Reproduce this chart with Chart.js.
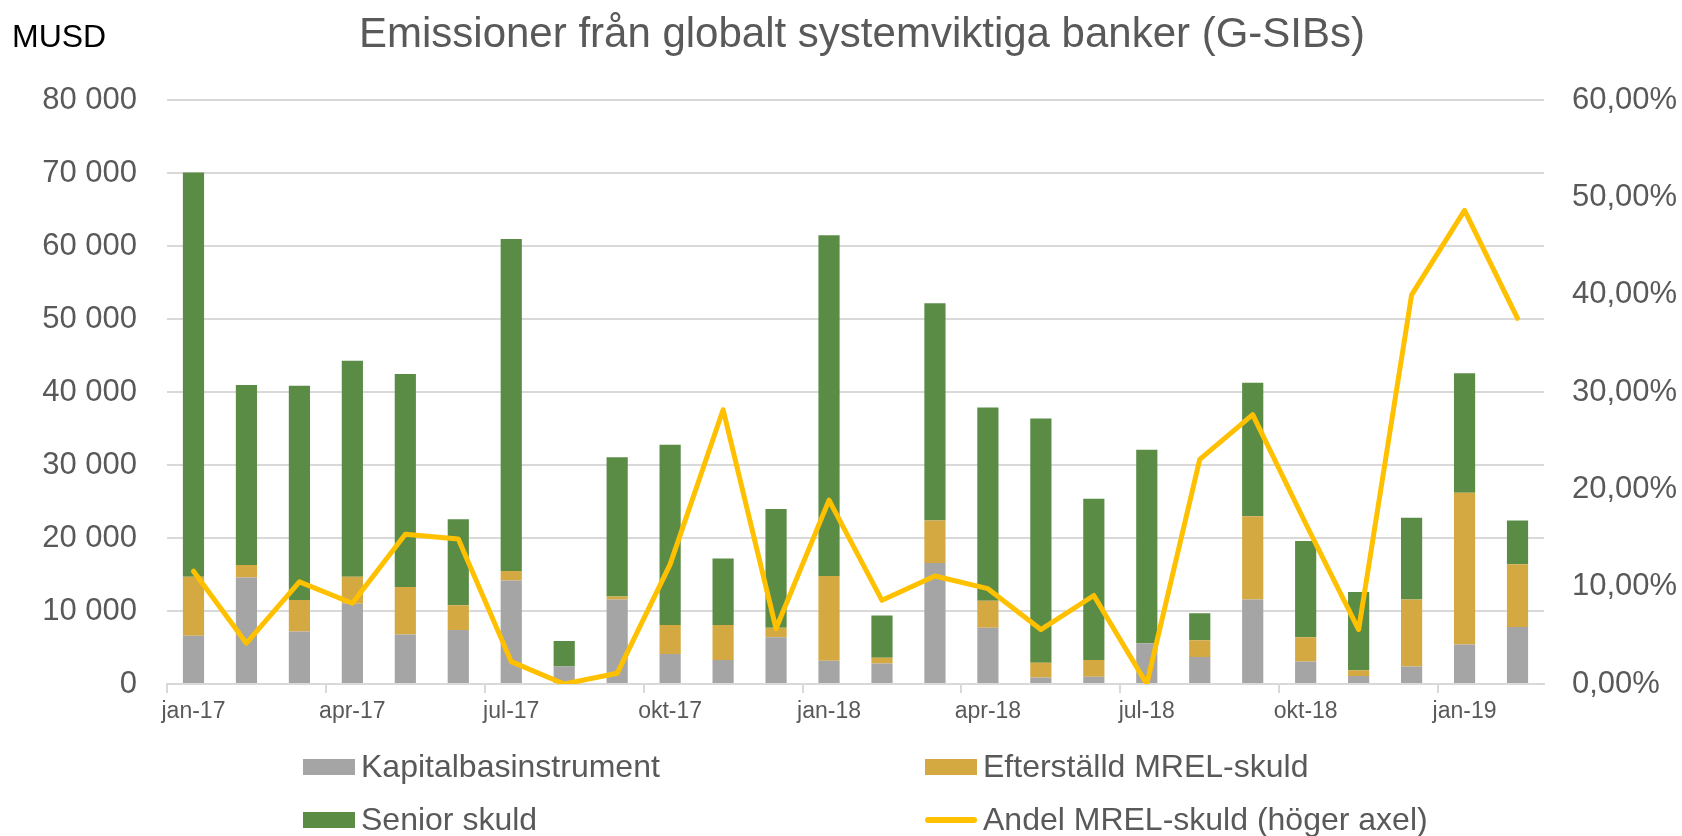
<!DOCTYPE html>
<html lang="sv">
<head>
<meta charset="utf-8">
<style>
  body { margin: 0; background: #fff; }
  #wrap { position: relative; width: 1682px; height: 836px; }
  #unit { position: absolute; left: 12px; top: 20px; font: 32px 'Liberation Sans', Arial, sans-serif; line-height: 32px; color: #000; }
  #legend { position: absolute; left: 303px; top: 740px; display: grid; grid-template-columns: 622px auto; grid-auto-rows: 53px;
            font: 32px 'Liberation Sans', Arial, sans-serif; color: #595959; }
  .item { display: flex; align-items: center; }
  .sw { width: 52px; height: 16px; margin-right: 6px; }
  .sw.line { height: 6px; border-radius: 3px; }
</style>
</head>
<body>
<div id="wrap">
  <canvas id="chart" width="1682" height="836"></canvas>
  <div id="unit">MUSD</div>
  <div id="legend"></div>
</div>
<script src="https://cdn.jsdelivr.net/npm/chart.js"></script>
<script>
  const months = ['jan-17','feb-17','mar-17','apr-17','maj-17','jun-17','jul-17','aug-17','sep-17','okt-17','nov-17','dec-17',
                  'jan-18','feb-18','mar-18','apr-18','maj-18','jun-18','jul-18','aug-18','sep-18','okt-18','nov-18','dec-18',
                  'jan-19','feb-19'];
  // MUSD
  const kapitalbas = [6600,14600,7200,11000,6800,7400,14200,2400,11600,4100,3300,6400,
                      3200,2800,16600,7700,900,1000,5600,3700,11600,3100,1100,2400,5400,7800];
  const efterstalld = [8100,1700,4300,3700,6500,3400,1300,0,400,4000,4800,1300,
                       11600,800,5800,3700,2000,2300,0,2300,11400,3300,800,9200,20800,8600];
  const senior = [55400,24700,29400,29600,29200,11800,45500,3500,19100,24700,9100,16300,
                  46700,5800,29800,26500,33500,22100,26500,3700,18300,13200,10700,11200,16400,6000];
  // procent, höger axel
  const andelMrel = [11.6,4.2,10.5,8.3,15.4,14.9,2.3,0.0,1.1,12.3,28.2,5.7,
                     18.9,8.6,11.1,9.8,5.6,9.1,0.0,23.1,27.7,16.5,5.6,40.0,48.7,37.6];

  const font = "'Liberation Sans', Arial, sans-serif";
  const textColor = '#595959';
  const gridColor = '#d9d9d9';

  function spaced(v) {
    return String(v).replace(/\B(?=(\d{3})+(?!\d))/g, ' ');
  }

  const chart = new Chart(document.getElementById('chart'), {
    type: 'bar',
    data: {
      labels: months,
      datasets: [
        { label: 'Kapitalbasinstrument', data: kapitalbas, backgroundColor: '#a5a5a5', order: 1 },
        { label: 'Efterställd MREL-skuld', data: efterstalld, backgroundColor: '#d5a942', order: 1 },
        { label: 'Senior skuld', data: senior, backgroundColor: '#5b8c46', order: 1 },
        { label: 'Andel MREL-skuld (höger axel)', type: 'line', data: andelMrel, yAxisID: 'y1',
          borderColor: '#ffc000', backgroundColor: '#ffc000', borderWidth: 5, pointRadius: 0,
          tension: 0, borderJoinStyle: 'round', borderCapStyle: 'round', order: 0 }
      ]
    },
    options: {
      responsive: false,
      animation: false,
      datasets: { bar: { barPercentage: 0.4, categoryPercentage: 1 } },
      layout: { padding: { left: 42, right: 0, top: 0, bottom: 110 } },
      plugins: {
        legend: { display: false },
        tooltip: { enabled: false },
        title: {
          display: true,
          text: 'Emissioner från globalt systemviktiga banker (G-SIBs)',
          color: textColor,
          font: { family: font, size: 42, weight: 'normal' },
          padding: { top: 10, bottom: 40 }
        }
      },
      scales: {
        x: {
          stacked: true,
          grid: {
            offset: true, drawOnChartArea: false, tickLength: 9, lineWidth: 2,
            color: c => c.index % 3 === 0 ? gridColor : 'rgba(0,0,0,0)'
          },
          border: { color: gridColor, width: 2 },
          ticks: {
            autoSkip: false, maxRotation: 0, padding: 5, color: textColor,
            font: { family: font, size: 23 },
            callback: (v, i) => i % 3 === 0 ? months[i] : ''
          },
          afterFit: s => { s.height = 42; }
        },
        y: {
          stacked: true, min: 0, max: 80000,
          grid: { drawTicks: false, color: gridColor, lineWidth: 2 },
          border: { display: false },
          ticks: { stepSize: 10000, padding: 30, color: textColor, font: { family: font, size: 31 },
                   callback: v => spaced(v) },
          afterFit: s => { s.width = 125; }
        },
        y1: {
          position: 'right', min: 0, max: 60,
          grid: { display: false, drawTicks: false },
          border: { display: false },
          ticks: { stepSize: 10, padding: 28, color: textColor, font: { family: font, size: 31 },
                   callback: v => v.toFixed(2).replace('.', ',') + '%' },
          afterFit: s => { s.width = 138; }
        }
      }
    }
  });

  // legend in two columns, like the original
  const legend = document.getElementById('legend');
  chart.data.datasets.forEach(ds => {
    const item = document.createElement('div');
    item.className = 'item';
    const sw = document.createElement('span');
    sw.className = ds.type === 'line' ? 'sw line' : 'sw';
    sw.style.background = ds.type === 'line' ? ds.borderColor : ds.backgroundColor;
    item.appendChild(sw);
    item.appendChild(document.createTextNode(ds.label));
    legend.appendChild(item);
  });
</script>
</body>
</html>
